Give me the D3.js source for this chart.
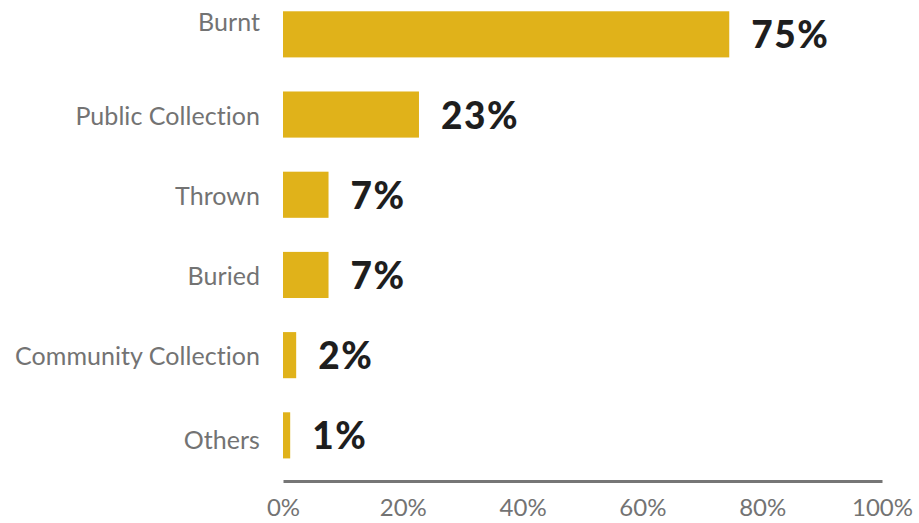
<!DOCTYPE html>
<html>
<head>
<meta charset="utf-8">
<script src="https://cdn.jsdelivr.net/npm/d3@7"></script>
<style>
  html, body { margin: 0; padding: 0; background: #fff; }
  svg { display: block; }
</style>
</head>
<body>
<svg id="chart" width="919" height="523"></svg>
<script>
const categories = ["Burnt", "Public Collection", "Thrown", "Buried", "Community Collection", "Others"];
const values = [74.5, 22.7, 7.6, 7.6, 2.2, 1.2];
const valueLabels = ["75%", "23%", "7%", "7%", "2%", "1%"];
const tickValues = [0, 20, 40, 60, 80, 100];
const tickLabels = ["0%", "20%", "40%", "60%", "80%", "100%"];

const svg = d3.select("#chart");
const x = d3.scaleLinear().domain([0, 100]).range([283, 882]);
const y = d3.scaleBand().domain(categories).range([-22.8, 492.5]).padding(0.425);

const barColor = "#E0B21A";
const catFont = "Lato, 'Open Sans', sans-serif";
// label baseline offsets relative to bar centre (as laid out in the original)
const catLabelOffset = (i, n) => i === 0 ? -3 : (i === n - 1 ? 14 : 10);

svg.selectAll("rect.bar")
  .data(categories)
  .join("rect")
  .attr("class", "bar")
  .attr("x", x(0))
  .attr("y", d => y(d))
  .attr("width", (d, i) => x(values[i]) - x(0))
  .attr("height", y.bandwidth())
  .attr("fill", barColor);

svg.selectAll("text.cat")
  .data(categories)
  .join("text")
  .attr("class", "cat")
  .attr("x", 260)
  .attr("y", (d, i) => y(d) + y.bandwidth() / 2 + catLabelOffset(i, categories.length))
  .attr("text-anchor", "end")
  .attr("font-family", catFont)
  .attr("font-size", 25)
  .attr("letter-spacing", 0.05)
  .attr("fill", "#737373")
  .text(d => d);

svg.selectAll("text.val")
  .data(categories)
  .join("text")
  .attr("class", "val")
  .attr("x", (d, i) => x(values[i]) + 22)
  .attr("y", d => y(d) + y.bandwidth() / 2 + 14)
  .attr("font-family", "Lato, sans-serif")
  .attr("font-weight", 900)
  .attr("font-size", 37)
  .attr("letter-spacing", 1.5)
  .attr("fill", "#1e1e1e")
  .text((d, i) => valueLabels[i]);

const axis = d3.axisBottom(x)
  .tickValues(tickValues)
  .tickFormat((d, i) => tickLabels[i])
  .tickSize(0)
  .tickPadding(18);

const gAxis = svg.append("g")
  .attr("transform", "translate(0,481)")
  .call(axis);
gAxis.select(".domain").attr("stroke", "#767676").attr("stroke-width", 3);
gAxis.selectAll(".tick text")
  .attr("font-family", catFont)
  .attr("font-size", 24)
  .attr("fill", "#737373");
</script>
</body>
</html>
